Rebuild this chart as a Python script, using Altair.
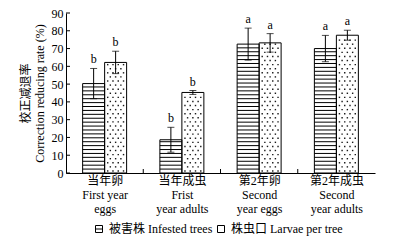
import json
import altair as alt
import pandas as pd

# ---------------- data ----------------
categories_cn = ["当年卵", "当年成虫", "第2年卵", "第2年成虫"]
categories_en1 = ["First year", "Frist", "Second", "Second"]
categories_en2 = ["eggs", "year adults", "year eggs", "year adults"]
series_names = ["被害株 Infested trees", "株虫口 Larvae per tree"]
infested = [50.3, 18.7, 72.5, 70.0]
infested_err = [8.5, 7.0, 9.0, 7.4]
larvae = [62.2, 45.3, 73.2, 77.5]
larvae_err = [6.3, 1.1, 5.2, 2.8]
letters_infested = ["b", "b", "a", "a"]
letters_larvae = ["b", "b", "a", "a"]
y_ticks = [0, 10, 20, 30, 40, 50, 60, 70, 80, 90]

FONT = "'Liberation Serif', 'Noto Sans CJK SC'"
W, H = 309, 160
BW = 0.2846          # bar width in category units
STRIPE = 2.2         # stripe spacing (value units)
DOT_ROW = 2.3

rows = []
series_vals = [(infested, infested_err, letters_infested), (larvae, larvae_err, letters_larvae)]
for i in range(len(categories_cn)):
    for s, (vals, errs, lets) in enumerate(series_vals):
        x0 = i + 0.5 - BW + s * BW
        rows.append(dict(cat=i, series=series_names[s], value=vals[i], err=errs[i],
                         letter=lets[i], x0=x0, x1=x0 + BW, xc=x0 + BW / 2,
                         lo=vals[i] - errs[i], hi=vals[i] + errs[i]))
df = pd.DataFrame(rows)

# decoration: stripes for first series, dots for second series
stripe_rows, dot_rows = [], []
for r in rows:
    if r["series"] == series_names[0]:
        k = 1
        while k * STRIPE < r["value"] - 0.6:
            stripe_rows.append(dict(x0=r["x0"], x1=r["x1"], y=k * STRIPE))
            k += 1
    else:
        k = 0
        while (k + 0.5) * DOT_ROW < r["value"] - 0.6:
            fracs = [0.14, 0.38, 0.62, 0.86] if k % 2 == 0 else [0.26, 0.5, 0.74]
            for f in fracs:
                dot_rows.append(dict(x=r["x0"] + f * BW, y=(k + 0.5) * DOT_ROW))
            k += 1
stripe_df = pd.DataFrame(stripe_rows)
dot_df = pd.DataFrame(dot_rows)

label_lines = [[c, e1, e2] for c, e1, e2 in zip(categories_cn, categories_en1, categories_en2)]
label_expr = json.dumps(label_lines, ensure_ascii=False) + "[floor(datum.value)]"

x_scale = alt.Scale(domain=[0, len(categories_cn)], nice=False, zero=False)
y_scale = alt.Scale(domain=[0, 90], nice=False, zero=False)

x_axis = alt.Axis(values=[i + 0.5 for i in range(len(categories_cn))], labelExpr=label_expr,
                  ticks=False, grid=False, title=None, labelFont=FONT, labelFontSize=12,
                  labelColor="black", labelPadding=2, labelLineHeight=14,
                  labelOverlap=False, domainColor="black", labelAngle=0)
y_axis = alt.Axis(values=y_ticks, ticks=False, grid=False,
                  title=["校正减退率", "Correction reducing rate (%)"],
                  titleFont=FONT, titleFontSize=12, titleFontWeight="normal",
                  titleColor="black", titleLineHeight=14, titlePadding=5,
                  labelFont=FONT, labelFontSize=12, labelColor="black",
                  labelPadding=3, domainColor="black")


def X(field):
    return alt.X(field, scale=x_scale, axis=x_axis)


def Y(field):
    return alt.Y(field, scale=y_scale, axis=y_axis)


base = alt.Chart(df)

bars_fill = base.mark_rect(fill="white").encode(
    x=X("x0:Q"), x2="x1:Q", y=Y("value:Q"), y2=alt.datum(0),
)

stripes = alt.Chart(stripe_df).mark_rule(color="black", strokeWidth=1).encode(
    x=X("x0:Q"), x2="x1:Q", y=Y("y:Q"),
)

dots = alt.Chart(dot_df).mark_square(size=2, color="black", opacity=0.9).encode(
    x=X("x:Q"), y=Y("y:Q"),
)

outline = base.mark_rect(fillOpacity=0, stroke="black", strokeWidth=1).encode(
    x=X("x0:Q"), x2="x1:Q", y=Y("value:Q"), y2=alt.datum(0),
)

err = base.mark_rule(color="black", strokeWidth=1).encode(
    x=X("xc:Q"), y=Y("lo:Q"), y2="hi:Q",
)
cap_hi = base.mark_tick(orient="horizontal", size=7, thickness=1, color="black").encode(
    x=X("xc:Q"), y=Y("hi:Q"),
)
cap_lo = base.mark_tick(orient="horizontal", size=7, thickness=1, color="black").encode(
    x=X("xc:Q"), y=Y("lo:Q"),
)

letters = base.mark_text(baseline="bottom", dy=-2, font=FONT, fontSize=12, color="black").encode(
    x=X("xc:Q"), y=Y("hi:Q"), text="letter:N",
)

ytick_marks = alt.Chart(pd.DataFrame({"t": y_ticks})).mark_rule(color="black").encode(
    y=Y("t:Q"), x=alt.value(0), x2=alt.value(4),
)
xtick_marks = alt.Chart(pd.DataFrame({"b": list(range(1, len(categories_cn)))})).mark_rule(color="black").encode(
    x=X("b:Q"), y=alt.value(H), y2=alt.value(H - 4),
)

legend_layer = base.mark_point(opacity=0, filled=False, color="black").encode(
    x=X("xc:Q"), y=Y("value:Q"),
    shape=alt.Shape(
        "series:N",
        scale=alt.Scale(domain=series_names,
                        range=["M-1,-1H1V1H-1Z M-1,0H1", "M-1,-1H1V1H-1Z"]),
        legend=alt.Legend(orient="none", legendX=27, legendY=210, direction="horizontal",
                          title=None, symbolSize=49, symbolStrokeWidth=1,
                          symbolStrokeColor="black", symbolOpacity=1,
                          labelFont=FONT, labelFontSize=12, labelColor="black",
                          labelOffset=4, columnPadding=2, labelLimit=0,
                          gridAlign="none"),
    ),
)

chart = alt.layer(
    bars_fill, stripes, dots, outline, err, cap_hi, cap_lo, letters,
    ytick_marks, xtick_marks, legend_layer,
).properties(
    width=W, height=H,
    autosize=alt.AutoSizeParams(type="none"),
    padding={"left": 58, "top": 5, "right": 13, "bottom": 65},
).configure_view(strokeWidth=0)

chart.save("out.html", embed_options={"renderer": "svg", "actions": False})
